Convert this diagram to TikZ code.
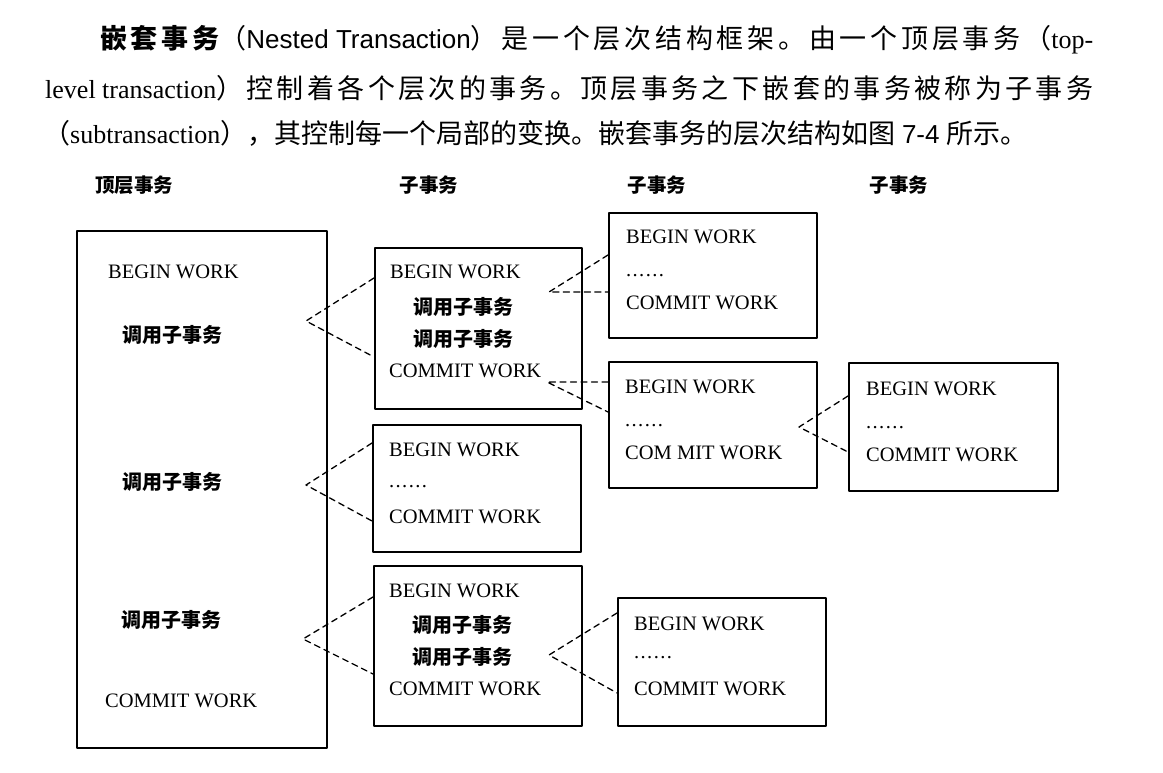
\documentclass[tikz,border=0pt]{standalone}
\usepackage{fontspec}
\setmainfont{Liberation Serif}
\setsansfont{Liberation Sans}
\newfontfamily\cjk{Noto Sans CJK SC}
\usetikzlibrary{calc}

% spread a run of CJK characters with stretchable glue
\def\sprd#1{{\cjk\sprdloop#1\relax\unskip}}
\def\sprdloop#1{\ifx\relax#1\else#1\hskip0pt plus 1fil\expandafter\sprdloop\fi}
\newcommand{\sixdots}{.\kern1.4pt.\kern1.4pt.\kern1.4pt.\kern1.4pt.\kern1.4pt.}

\begin{document}
\begin{tikzpicture}[
    x=1pt,
    y=-1pt,
    line cap=round,
    line join=round,
    txbox/.style={draw, line width=2.2pt, inner sep=0pt, anchor=north west},
    dashed link/.style={line width=1.3pt, dash pattern=on 6pt off 4.5pt},
    work/.style={anchor=west, inner sep=0pt, font=\fontsize{20.5}{24}\selectfont},
    call/.style={anchor=west, inner sep=0pt, font=\cjk\bfseries\fontsize{20}{24}\selectfont},
    head/.style={inner sep=0pt, font=\cjk\bfseries\fontsize{19.5}{23}\selectfont},
    para/.style={anchor=west, inner sep=0pt, font=\fontsize{27}{32}\selectfont}
]

\useasboundingbox (0,0) rectangle (1163,773);

% -------------------------------------------------
% Paragraph above the figure
% -------------------------------------------------

\node[para] (line1) at (100,40)
    {\hbox to 993pt{{\bfseries\sprd{嵌套事务}}{\cjk （}{\fontsize{26}{30}\selectfont\sffamily Nested Transaction}\sprd{）是一个层次结构框架。由一个顶层事务}\hskip0pt plus 1fil{\cjk （}{\fontsize{26}{30}\selectfont top-}}};

\node[para] (line2) at (45,88)
    {\hbox to 1048pt{{\fontsize{26}{30}\selectfont level transaction}\sprd{）控制着各个层次的事务。顶层事务之下嵌套的事务被称为子事务}}};

\node[para] (line3) at (43,133)
    {\hbox to 984pt{{\cjk （}{\fontsize{26}{30}\selectfont subtransaction}\sprd{），其控制每一个局部的变换。嵌套事务的层次结构如图}\hskip0pt plus 1fil\ {\fontsize{26}{30}\selectfont\sffamily 7-4}\ \sprd{所示。}}};

% -------------------------------------------------
% Column headings
% -------------------------------------------------

\node[head] (h0) at (134,185) {顶层事务};
\node[head] (h1) at (429,185) {子事务};
\node[head] (h2) at (657,185) {子事务};
\node[head] (h3) at (899,185) {子事务};

% -------------------------------------------------
% Top-level transaction
% -------------------------------------------------

\node[txbox, minimum width=250pt, minimum height=517pt] (top) at (76,230) {};

\node[work] (t1) at (108,272) {BEGIN WORK};
\node[call] (t2) at (122,335) {调用子事务};
\node[call] (t3) at (122,482) {调用子事务};
\node[call] (t4) at (121,620) {调用子事务};
\node[work] (t5) at (105,701) {COMMIT WORK};

% -------------------------------------------------
% Subtransactions
% -------------------------------------------------

% first subtransaction
\node[txbox, minimum width=207pt, minimum height=161pt] (s1) at (374,247) {};
\node[work] (s1a) at (390,272) {BEGIN WORK};
\node[call] (s1b) at (413,307) {调用子事务};
\node[call] (s1c) at (413,339) {调用子事务};
\node[work] (s1d) at (389,371) {COMMIT WORK};

% its two children
\node[txbox, minimum width=208pt, minimum height=125pt] (s11) at (608,212) {};
\node[work] (s11a) at (626,237) {BEGIN WORK};
\node[work] (s11b) at (626,276) {\sixdots};
\node[work] (s11c) at (626,303) {COMMIT WORK};

\node[txbox, minimum width=208pt, minimum height=126pt] (s12) at (608,361) {};
\node[work] (s12a) at (625,387) {BEGIN WORK};
\node[work] (s12b) at (625,426) {\sixdots};
\node[work] (s12c) at (625,453) {COM MIT WORK};

\node[txbox, minimum width=209pt, minimum height=128pt] (s121) at (848,362) {};
\node[work] (s121a) at (866,389) {BEGIN WORK};
\node[work] (s121b) at (866,428) {\sixdots};
\node[work] (s121c) at (866,455) {COMMIT WORK};

% second subtransaction
\node[txbox, minimum width=208pt, minimum height=127pt] (s2) at (372,424) {};
\node[work] (s2a) at (389,450) {BEGIN WORK};
\node[work] (s2b) at (389,487) {\sixdots};
\node[work] (s2c) at (389,517) {COMMIT WORK};

% third subtransaction
\node[txbox, minimum width=208pt, minimum height=160pt] (s3) at (373,565) {};
\node[work] (s3a) at (389,591) {BEGIN WORK};
\node[call] (s3b) at (412,625) {调用子事务};
\node[call] (s3c) at (412,657) {调用子事务};
\node[work] (s3d) at (389,689) {COMMIT WORK};

\node[txbox, minimum width=208pt, minimum height=128pt] (s31) at (617,597) {};
\node[work] (s31a) at (634,624) {BEGIN WORK};
\node[work] (s31b) at (634,658) {\sixdots};
\node[work] (s31c) at (634,689) {COMMIT WORK};

% -------------------------------------------------
% Dashed links
% -------------------------------------------------

\coordinate (v1) at (306,321);
\coordinate (v2) at (306,485);
\coordinate (v3) at (303,639);
\coordinate (v11) at (549,292);
\coordinate (v12) at (547,382);
\coordinate (v121) at (799,427);
\coordinate (v31) at (549,655);

\draw[dashed link] (s1.west |- 0,278) -- (v1) -- (s1.west |- 0,357);
\draw[dashed link] (s2.west |- 0,443) -- (v2) -- (s2.west |- 0,521);
\draw[dashed link] (s3.west |- 0,597) -- (v3) -- (s3.west |- 0,674);

\draw[dashed link] (s11.west |- 0,255) -- (v11) -- (s11.west |- v11);
\draw[dashed link] (s12.west |- v12) -- (v12) -- (s12.west |- 0,412);
\draw[dashed link] (s121.west |- 0,396) -- (v121) -- (s121.west |- 0,452);
\draw[dashed link] (s31.west |- 0,613) -- (v31) -- (s31.west |- 0,693);

\end{tikzpicture}
\end{document}
